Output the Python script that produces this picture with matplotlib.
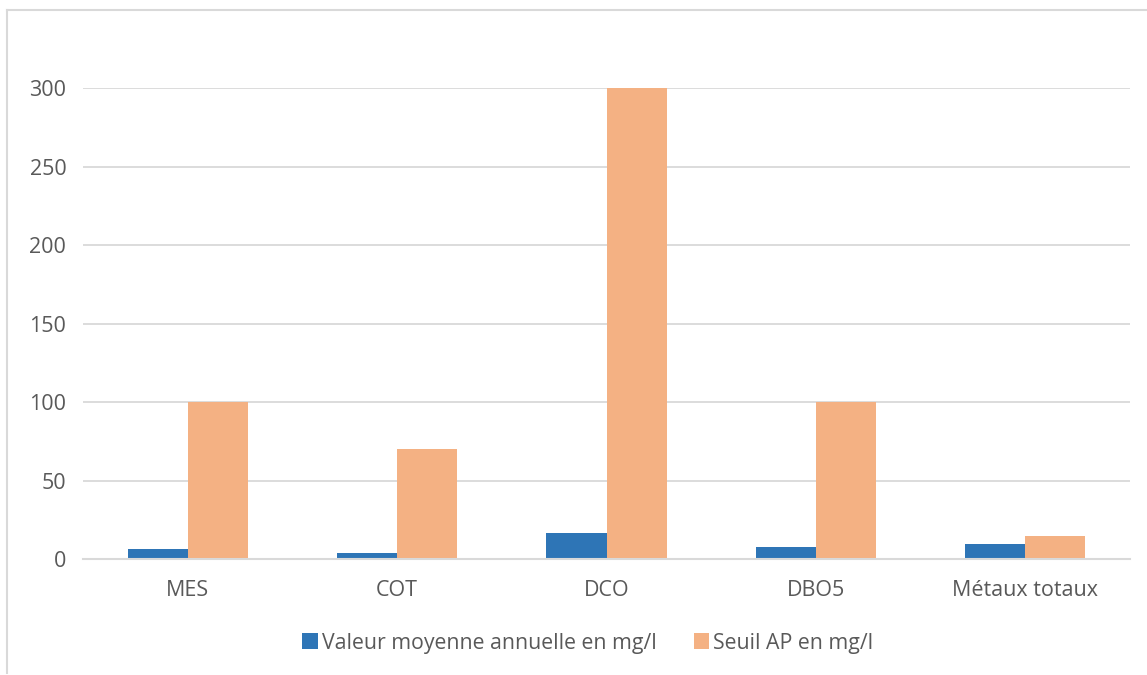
import matplotlib.pyplot as plt
from matplotlib.lines import Line2D
import numpy as np

categories = ["MES", "COT", "DCO", "DBO5", "Métaux totaux"]
valeur_moyenne = [6.5, 3.8, 16.5, 8.0, 9.5]
seuil_ap = [100, 70, 300, 100, 15]
yticks = [0, 50, 100, 150, 200, 250, 300]

blue = "#2E75B6"
orange = "#F4B183"
grid = "#D9D9D9"
text = "#595959"

plt.rcParams["font.family"] = ["Open Sans", "DejaVu Sans"]

W, H = 1147, 675
fig = plt.figure(figsize=(W / 100, H / 100), dpi=100)
ax = fig.add_axes([83 / W, 1 - 559.3 / H, (1130 - 83) / W, (559.3 - 88) / H])

x = np.arange(len(categories))
bw = 0.287
b1 = ax.bar(x - bw / 2, valeur_moyenne, bw, color=blue, label="Valeur moyenne annuelle en mg/l", zorder=3)
b2 = ax.bar(x + bw / 2, seuil_ap, bw, color=orange, label="Seuil AP en mg/l", zorder=3)

ax.set_xlim(-0.5, len(categories) - 0.5)
ax.set_ylim(0, 300)
ax.set_yticks(yticks)
ax.set_xticks(x)
ax.set_xticklabels(categories)
ax.grid(axis="y", color=grid, linewidth=1.3, zorder=0)
for s in ["top", "right", "left"]:
    ax.spines[s].set_visible(False)
ax.spines["bottom"].set_color(grid)
ax.spines["bottom"].set_linewidth(1.5)
ax.spines["bottom"].set_zorder(4)
ax.tick_params(axis="both", length=0, colors=text, labelsize=15.5)
ax.tick_params(axis="y", pad=12)
ax.tick_params(axis="x", pad=15)

fig.legend(handles=[b1, b2], loc="center", bbox_to_anchor=(588 / W, 1 - 643 / H),
           ncol=2, frameon=False, fontsize=15.3, labelcolor=text,
           handlelength=0.72, handleheight=0.72, handletextpad=0.2, columnspacing=1.75)

# chart area border
fig.add_artist(Line2D([6.5 / W, 6.5 / W], [1 - 10 / H, 1 - 673 / H], color=grid, linewidth=1.5))
fig.add_artist(Line2D([6.5 / W, 1.0], [1 - 10 / H, 1 - 10 / H], color=grid, linewidth=1.5))

fig.savefig("out.png", dpi=100)
